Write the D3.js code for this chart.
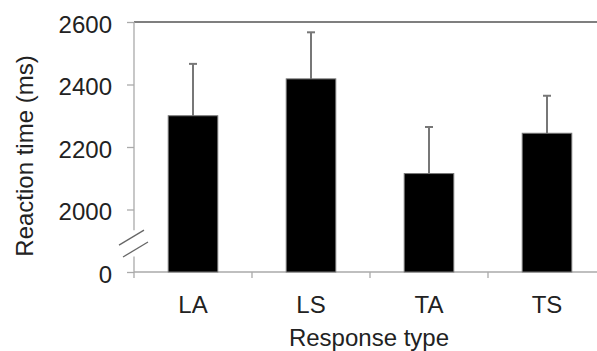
<!DOCTYPE html>
<html>
<head>
<meta charset="utf-8">
<script src="https://cdn.jsdelivr.net/npm/d3@7"></script>
<style>
  body { margin: 0; background: #fff; }
  text { font-family: "Liberation Sans", Arial, sans-serif; fill: #222; }
</style>
</head>
<body>
<div id="chart"></div>
<script>
// data
const categories = ["LA", "LS", "TA", "TS"];
const means = [2300, 2418, 2115, 2244];
const errors = [166, 149, 149, 120];
const yTicks = [1800, 2000, 2200, 2400, 2600];   // 1800 is drawn as "0" below the axis break

const W = 597, H = 351;
const plotLeft = 134, plotRight = 606, plotTop = 22, plotBottom = 272;

const svg = d3.select("#chart")
    .append("svg")
    .attr("width", W)
    .attr("height", H);

const x = d3.scaleBand()
    .domain(categories)
    .range([plotLeft, plotRight])
    .paddingInner(0.58)
    .paddingOuter(0.29);

const y = d3.scaleLinear()
    .domain([1800, 2600])
    .range([plotBottom, plotTop]);

// top border line
svg.append("line")
    .attr("x1", plotLeft).attr("x2", W)
    .attr("y1", y(2600)).attr("y2", y(2600))
    .attr("stroke", "#555").attr("stroke-width", 1.6);

// y axis with break
const yAxis = svg.append("g")
    .attr("transform", `translate(${plotLeft},0)`)
    .call(d3.axisLeft(y)
        .tickValues(yTicks)
        .tickSize(7)
        .tickFormat(d => d === 1800 ? "0" : d));
yAxis.select(".domain").remove();
yAxis.selectAll(".tick line").attr("stroke", "#aaa").attr("stroke-width", 1.3);
yAxis.selectAll(".tick text")
    .attr("x", -22)
    .attr("dy", "0.43em")
    .style("font-size", "24px");

// break: gap in the axis between these two values
const gapTop = 1934, gapBottom = 1850;
svg.append("line")
    .attr("x1", plotLeft).attr("x2", plotLeft)
    .attr("y1", y(2600)).attr("y2", y(gapTop))
    .attr("stroke", "#aaa").attr("stroke-width", 1.3);
svg.append("line")
    .attr("x1", plotLeft).attr("x2", plotLeft)
    .attr("y1", y(gapBottom)).attr("y2", plotBottom + 6)
    .attr("stroke", "#aaa").attr("stroke-width", 1.3);
[gapTop, 1896].forEach((v, i) => {
    svg.append("line")
        .attr("x1", plotLeft - 15 + i * 4).attr("y1", y(v) + 15)
        .attr("x2", plotLeft + 10 + i * 4).attr("y2", y(v))
        .attr("stroke", "#666").attr("stroke-width", 1.3);
});

// x axis
svg.append("line")
    .attr("x1", plotLeft).attr("x2", W)
    .attr("y1", plotBottom).attr("y2", plotBottom)
    .attr("stroke", "#aaa").attr("stroke-width", 1.3);
categories.slice(1).forEach(c => {
    const bx = x(c) - x.step() * x.paddingInner() / 2;
    svg.append("line")
        .attr("x1", bx).attr("x2", bx)
        .attr("y1", plotBottom).attr("y2", plotBottom + 6)
        .attr("stroke", "#aaa").attr("stroke-width", 1.3);
});
svg.selectAll(".xlab")
    .data(categories)
    .join("text")
    .attr("class", "xlab")
    .attr("x", d => x(d) + x.bandwidth() / 2)
    .attr("y", 313)
    .attr("text-anchor", "middle")
    .style("font-size", "24px")
    .text(d => d);

// error bars (upper only)
svg.selectAll(".err")
    .data(categories)
    .join("line")
    .attr("class", "err")
    .attr("x1", d => x(d) + x.bandwidth() / 2)
    .attr("x2", d => x(d) + x.bandwidth() / 2)
    .attr("y1", (d, i) => y(means[i]))
    .attr("y2", (d, i) => y(means[i] + errors[i]))
    .attr("stroke", "#777").attr("stroke-width", 2);
svg.selectAll(".cap")
    .data(categories)
    .join("line")
    .attr("class", "cap")
    .attr("x1", d => x(d) + x.bandwidth() / 2 - 4)
    .attr("x2", d => x(d) + x.bandwidth() / 2 + 4)
    .attr("y1", (d, i) => y(means[i] + errors[i]))
    .attr("y2", (d, i) => y(means[i] + errors[i]))
    .attr("stroke", "#777").attr("stroke-width", 2);

// bars
svg.selectAll(".bar")
    .data(categories)
    .join("rect")
    .attr("class", "bar")
    .attr("x", d => x(d))
    .attr("width", x.bandwidth())
    .attr("y", (d, i) => y(means[i]))
    .attr("height", (d, i) => plotBottom - y(means[i]))
    .attr("fill", "#000")
    .attr("stroke", "#777").attr("stroke-width", 1);

// axis titles
svg.append("text")
    .attr("transform", `translate(33,156) rotate(-90)`)
    .attr("text-anchor", "middle")
    .style("font-size", "24px")
    .text("Reaction time (ms)");
svg.append("text")
    .attr("x", 369)
    .attr("y", 346)
    .attr("text-anchor", "middle")
    .style("font-size", "24px")
    .text("Response type");
</script>
</body>
</html>
